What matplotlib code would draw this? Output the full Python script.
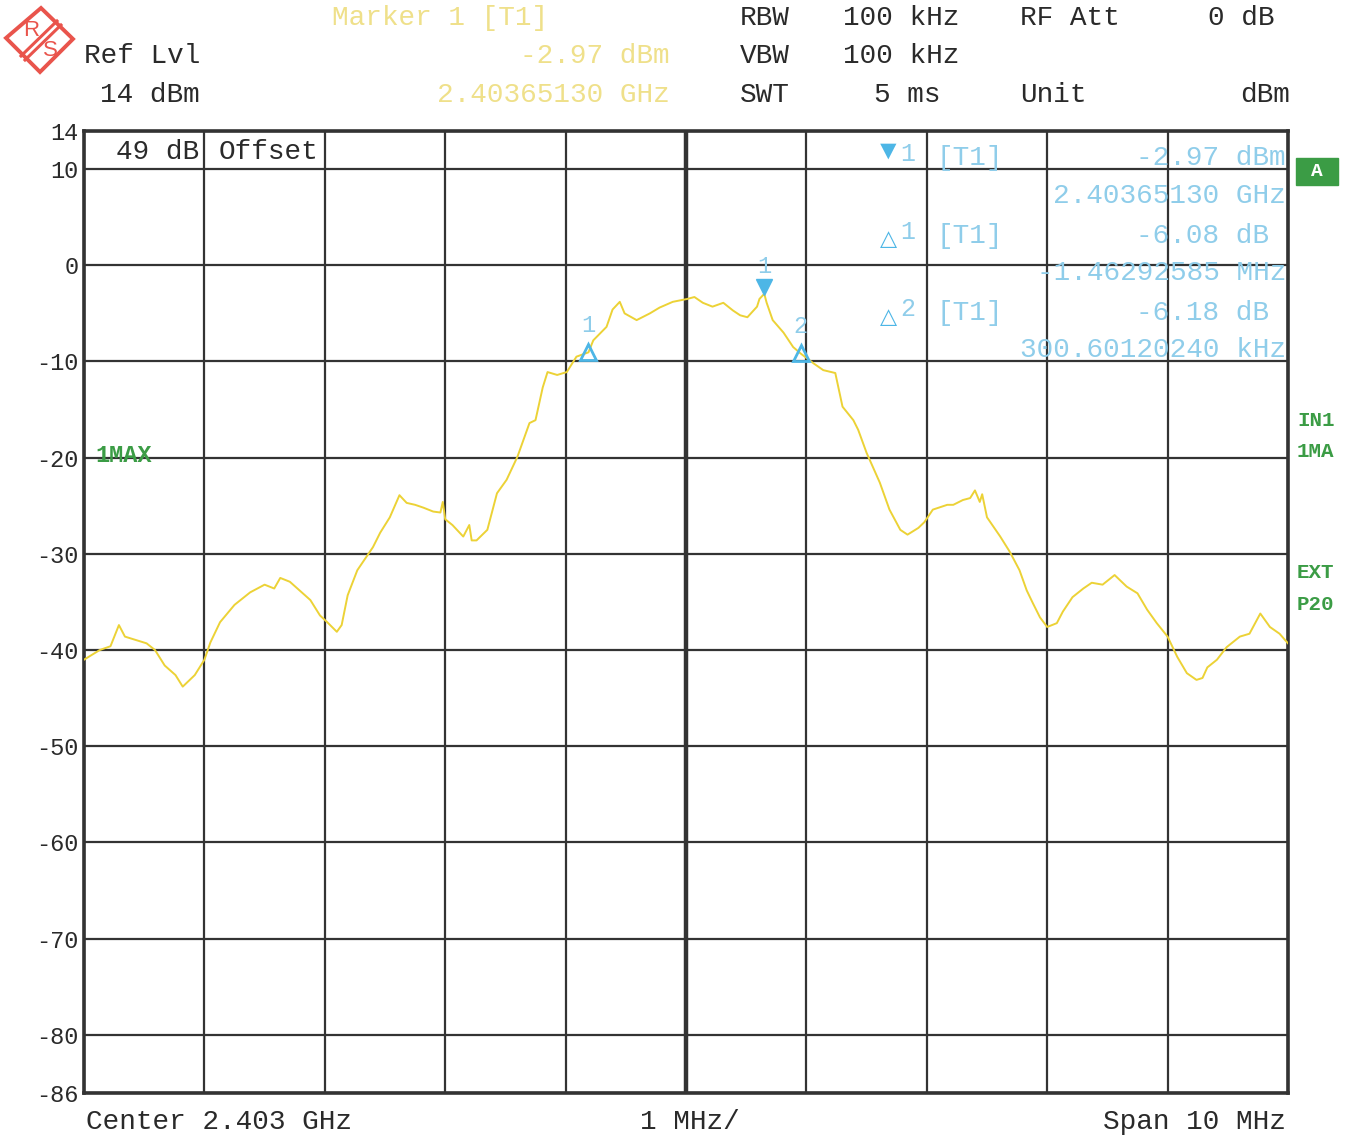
import matplotlib
matplotlib.use("Agg")
import matplotlib.pyplot as plt
import matplotlib.transforms as mtransforms
from matplotlib.patches import Polygon, Rectangle
import numpy as np

W, H = 1356, 1135

# Trace 1 (max hold): offset from centre frequency in MHz, level in dBm
freq_mhz = [
    -5.00, -4.87, -4.78, -4.71, -4.66, -4.53, -4.48, -4.41, -4.33, -4.24,
    -4.18, -4.08, -4.00, -3.95, -3.87, -3.75, -3.62, -3.50, -3.42, -3.37,
    -3.29, -3.21, -3.12, -3.04, -2.98, -2.90, -2.86, -2.81, -2.73, -2.60,
    -2.54, -2.46, -2.38, -2.32, -2.25, -2.18, -2.10, -2.04, -2.02, -2.00,
    -1.94, -1.85, -1.80, -1.78, -1.74, -1.65, -1.57, -1.49, -1.40, -1.30,
    -1.25, -1.19, -1.15, -1.07, -0.99, -0.91, -0.81, -0.77, -0.66, -0.61,
    -0.55, -0.51, -0.41, -0.30, -0.22, -0.11, 0.01, 0.07, 0.14, 0.22,
    0.31, 0.39, 0.45, 0.51, 0.59, 0.61, 0.65, 0.67, 0.72, 0.81,
    0.89, 0.95, 1.06, 1.14, 1.24, 1.30, 1.39, 1.43, 1.50, 1.61,
    1.69, 1.78, 1.84, 1.93, 1.98, 2.05, 2.17, 2.22, 2.30, 2.36,
    2.40, 2.44, 2.46, 2.50, 2.61, 2.69, 2.77, 2.83, 2.88, 2.94,
    3.00, 3.08, 3.13, 3.21, 3.30, 3.37, 3.46, 3.56, 3.66, 3.75,
    3.83, 3.91, 4.00, 4.08, 4.16, 4.24, 4.29, 4.33, 4.41, 4.49,
    4.60, 4.68, 4.77, 4.81, 4.85, 4.93, 5.00,
]
level_dbm = [
    -41.0, -40.0, -39.6, -37.4, -38.6, -39.1, -39.3, -40.0, -41.6, -42.6,
    -43.8, -42.6, -41.0, -39.2, -37.1, -35.3, -34.0, -33.2, -33.6, -32.5,
    -32.9, -33.8, -34.8, -36.4, -37.1, -38.1, -37.4, -34.3, -31.7, -29.3,
    -27.8, -26.2, -23.9, -24.7, -24.9, -25.2, -25.6, -25.7, -24.6, -26.4,
    -27.0, -28.2, -27.0, -28.6, -28.6, -27.5, -23.7, -22.3, -19.9, -16.4,
    -16.1, -12.7, -11.1, -11.4, -11.1, -9.5, -9.05, -7.8, -6.4, -4.6,
    -3.8, -5.0, -5.7, -5.0, -4.4, -3.8, -3.5, -3.3, -3.9, -4.3,
    -3.9, -4.7, -5.2, -5.4, -4.3, -3.5, -2.97, -3.9, -5.7, -7.0,
    -8.5, -9.15, -10.2, -10.9, -11.2, -14.7, -16.1, -17.1, -19.5, -22.6,
    -25.4, -27.5, -28.0, -27.3, -26.7, -25.4, -24.9, -24.9, -24.4, -24.2,
    -23.4, -24.6, -23.8, -26.2, -28.2, -29.8, -31.7, -33.8, -35.1, -36.6,
    -37.6, -37.2, -36.0, -34.5, -33.6, -33.0, -33.2, -32.2, -33.4, -34.1,
    -35.8, -37.2, -38.6, -40.7, -42.4, -43.1, -42.9, -41.8, -41.0, -39.7,
    -38.6, -38.3, -36.2, -36.9, -37.6, -38.3, -39.3,
]

# Marker readout
center_ghz = 2.403
span_mhz = 10
ref_level_dbm = 14
marker1_ghz = 2.40365130
marker1_dbm = -2.97
delta1_db = -6.08
delta1_mhz = -1.46292585
delta2_db = -6.18
delta2_khz = 300.60120240

y_ticks = [14, 10, 0, -10, -20, -30, -40, -50, -60, -70, -80, -86]

TRACE = "#ecd236"
MARK = "#4db6e6"
MARK_TXT = "#8fcdea"
HEAD_YEL = "#efe08a"
GREEN = "#3b9c45"
INK = "#2a2a2a"
GRID = "#333333"

plt.rcParams["font.family"] = ["Liberation Mono", "DejaVu Sans"]


def fx(x):
    return x / W


def fy(y):
    return 1 - y / H


fig = plt.figure(figsize=(W / 100, H / 100), dpi=100)
fig.patch.set_facecolor("white")

ax = fig.add_axes([fx(84), fy(1092.6), (1288 - 84) / W, (1092.6 - 130.6) / H])
ax.set_xlim(-span_mhz / 2, span_mhz / 2)
ax.set_ylim(-86, 14)
ax.set_xticks(np.arange(-5, 6, 1))
ax.set_xticklabels([])
ax.set_yticks(y_ticks)
ax.set_yticklabels([str(t) for t in y_ticks], fontsize=17, color=INK)
ax.tick_params(length=0, pad=4)
ax.grid(True, color=GRID, lw=1.6)
ax.axvline(0, color=GRID, lw=3.2)
for s in ax.spines.values():
    s.set_color(GRID)
    s.set_linewidth(2.6)
ax.set_axisbelow(True)

ax.plot(freq_mhz, level_dbm, color=TRACE, lw=1.4, zorder=3)

# Markers on the trace
m1_off = (marker1_ghz - center_ghz) * 1000
d1_f = m1_off + delta1_mhz
d1_l = marker1_dbm + delta1_db
d2_f = m1_off + delta2_khz / 1000
d2_l = marker1_dbm + delta2_db

up = mtransforms.offset_copy(ax.transData, fig=fig, x=0, y=7, units="dots")
ax.plot([m1_off], [marker1_dbm], marker="v", ms=12, color=MARK,
        transform=up, zorder=4, ls="none")
ax.annotate("1", (m1_off, marker1_dbm), xytext=(0, 20), textcoords="offset points",
            ha="center", va="center", fontsize=17, color=MARK_TXT)
for f, l, n in [(d1_f, d1_l, "1"), (d2_f, d2_l, "2")]:
    ax.plot([f], [l], marker="^", ms=11, mfc="none", mec=MARK, mew=2,
            zorder=4, ls="none")
    ax.annotate(n, (f, l), xytext=(0, 19), textcoords="offset points",
                ha="center", va="center", fontsize=17, color=MARK_TXT)

# Marker table inside the screen
fig.text(fx(888), fy(152), "\u25BC", fontsize=20, color=MARK, ha="center", va="center")
fig.text(fx(888), fy(240), "\u25B3", fontsize=16, color=MARK, ha="center", va="center")
fig.text(fx(888), fy(318), "\u25B3", fontsize=16, color=MARK, ha="center", va="center")
rows = [
    (158, "1", "[T1]", f"{marker1_dbm:.2f} dBm"),
    (196, None, None, f"{marker1_ghz:.8f} GHz"),
    (236, "1", "[T1]", f"{delta1_db:.2f} dB "),
    (273, None, None, f"{delta1_mhz:.8f} MHz"),
    (313, "2", "[T1]", f"{delta2_db:.2f} dB "),
    (350, None, None, f"{delta2_khz:.8f} kHz"),
]
for y, n, tr, val in rows:
    if n:
        fig.text(fx(900), fy(y - 4), n, fontsize=18, color=MARK_TXT, va="center")
        fig.text(fx(936), fy(y), tr, fontsize=20, color=MARK_TXT, va="center")
    fig.text(fx(1286), fy(y), val, fontsize=20, color=MARK_TXT, va="center", ha="right")

fig.text(fx(116), fy(152), "49 dB", fontsize=20, color=INK, va="center")
fig.text(fx(219), fy(152), "Offset", fontsize=20, color=INK, va="center")
fig.text(fx(95), fy(455), "1MAX", fontsize=17, color=GREEN, va="center",
         fontweight="bold")

# Header
fig.text(fx(84), fy(56), "Ref Lvl", fontsize=20, color=INK, va="center")
fig.text(fx(100), fy(95), f"{ref_level_dbm} dBm", fontsize=20, color=INK, va="center")
fig.text(fx(332), fy(18), "Marker 1 [T1]", fontsize=20, color=HEAD_YEL, va="center")
fig.text(fx(670), fy(56), f"{marker1_dbm:.2f} dBm", fontsize=20, color=HEAD_YEL,
         va="center", ha="right")
fig.text(fx(670), fy(95), f"{marker1_ghz:.8f} GHz", fontsize=20, color=HEAD_YEL,
         va="center", ha="right")
for y, k, v in [(18, "RBW", "100 kHz"), (56, "VBW", "100 kHz")]:
    fig.text(fx(740), fy(y), k, fontsize=20, color=INK, va="center")
    fig.text(fx(843), fy(y), v, fontsize=20, color=INK, va="center")
fig.text(fx(740), fy(95), "SWT", fontsize=20, color=INK, va="center")
fig.text(fx(941), fy(95), "5 ms", fontsize=20, color=INK, va="center", ha="right")
fig.text(fx(1020), fy(18), "RF Att", fontsize=20, color=INK, va="center")
fig.text(fx(1274), fy(18), "0 dB", fontsize=20, color=INK, va="center", ha="right")
fig.text(fx(1020), fy(95), "Unit", fontsize=20, color=INK, va="center")
fig.text(fx(1290), fy(95), "dBm", fontsize=20, color=INK, va="center", ha="right")

# Footer
fig.text(fx(86), fy(1122), f"Center {center_ghz} GHz", fontsize=20, color=INK, va="center")
fig.text(fx(690), fy(1122), f"{span_mhz // 10} MHz/", fontsize=20, color=INK,
         va="center", ha="center")
fig.text(fx(1286), fy(1122), f"Span {span_mhz} MHz", fontsize=20, color=INK,
         va="center", ha="right")

# Side annotations
fig.add_artist(Rectangle((fx(1296), fy(185)), 42 / W, 27 / H, color=GREEN,
                         transform=fig.transFigure))
fig.text(fx(1317), fy(171), "A", fontsize=14, color="white", ha="center", va="center",
         fontweight="bold")
for y, t in [(421, "IN1"), (452, "1MA"), (572, "EXT"), (604, "P20")]:
    fig.text(fx(1297), fy(y), t, fontsize=15, color=GREEN, va="center", fontweight="bold")

# R&S logo
lg = fig.add_axes([0, fy(80), 80 / W, 80 / H])
lg.set_xlim(0, 80)
lg.set_ylim(80, 0)
lg.axis("off")
LOGO = "#e9544c"
lg.add_patch(Polygon([(41, 8), (73, 39), (40, 72), (6, 38)], closed=True,
                     fill=False, ec=LOGO, lw=2.8))
lg.plot([57, 21], [21, 56], color=LOGO, lw=2.2)
lg.plot([61, 25], [25, 60], color=LOGO, lw=2.2)
lg.text(31, 30, "R", fontsize=16, color=LOGO, ha="center", va="center",
        family="Liberation Sans")
lg.text(50, 51, "S", fontsize=16, color=LOGO, ha="center", va="center",
        family="Liberation Sans")

fig.savefig("out.png", dpi=100, facecolor="white")
